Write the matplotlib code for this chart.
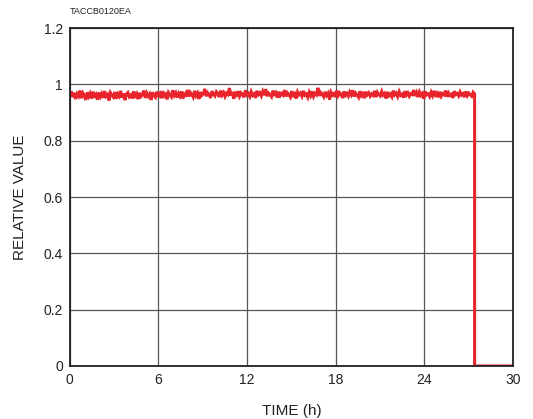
import numpy as np
import matplotlib
matplotlib.use('Agg')
import matplotlib.pyplot as plt

# relative value readings (dense logging) until the drop near 27.4 h
vals = [0.962, 0.975, 0.955, 0.970, 0.948, 0.966, 0.958, 0.978, 0.951, 0.969,
        0.960, 0.945, 0.972, 0.957, 0.968, 0.950, 0.974, 0.959, 0.965, 0.946,
        0.971, 0.956, 0.967, 0.952, 0.976, 0.958, 0.964, 0.943, 0.970, 0.961,
        0.955, 0.973, 0.949, 0.966, 0.958, 0.977, 0.953, 0.968, 0.944, 0.965,
        0.971, 0.956, 0.962, 0.950, 0.975, 0.959, 0.967, 0.948, 0.970, 0.957,
        0.963, 0.978, 0.952, 0.969, 0.958, 0.966, 0.945, 0.972, 0.960, 0.954,
        0.974, 0.962, 0.968, 0.951, 0.976, 0.959, 0.965, 0.947, 0.971, 0.963,
        0.956, 0.979, 0.961, 0.970, 0.953, 0.968, 0.958, 0.975, 0.950, 0.966,
        0.962, 0.980, 0.957, 0.972, 0.964, 0.955, 0.977, 0.960, 0.969, 0.948,
        0.973, 0.961, 0.966, 0.984, 0.958, 0.970, 0.963, 0.952, 0.976, 0.965,
        0.959, 0.974, 0.967, 0.955, 0.978, 0.962, 0.971, 0.957, 0.969, 0.964,
        0.987, 0.960, 0.973, 0.949, 0.968, 0.962, 0.976, 0.958, 0.970, 0.965,
        0.954, 0.979, 0.963, 0.968, 0.957, 0.974, 0.961, 0.966, 0.952, 0.977,
        0.964, 0.970, 0.959, 0.975, 0.962, 0.983, 0.958, 0.969, 0.963, 0.956,
        0.978, 0.965, 0.971, 0.953, 0.974, 0.960, 0.968, 0.962, 0.980, 0.957,
        0.970, 0.964, 0.955, 0.976, 0.961, 0.967, 0.950, 0.973, 0.963, 0.969,
        0.958, 0.977, 0.962, 0.966, 0.954, 0.972, 0.960, 0.975, 0.957, 0.968,
        0.963, 0.988, 0.959, 0.971, 0.965, 0.956, 0.974, 0.961, 0.969, 0.946,
        0.972, 0.962, 0.967, 0.955, 0.978, 0.960, 0.970, 0.964, 0.952, 0.975,
        0.961, 0.968, 0.958, 0.973, 0.963, 0.979, 0.957, 0.969, 0.962, 0.954,
        0.976, 0.960, 0.967, 0.951, 0.974, 0.963, 0.970, 0.958, 0.966, 0.961,
        0.977, 0.955, 0.972, 0.964, 0.959, 0.975, 0.962, 0.968, 0.950, 0.973,
        0.960, 0.966, 0.956, 0.978, 0.963, 0.969, 0.957, 0.974, 0.961, 0.965,
        0.953, 0.976, 0.962, 0.970, 0.958, 0.967, 0.964, 0.980, 0.959, 0.971,
        0.955, 0.973, 0.961, 0.968, 0.949, 0.975, 0.963, 0.966, 0.957, 0.972,
        0.960, 0.977, 0.962, 0.969, 0.954, 0.974, 0.958, 0.967, 0.963, 0.978,
        0.956, 0.970, 0.961, 0.965, 0.952, 0.976, 0.964, 0.968, 0.959, 0.973,
        0.962, 0.967, 0.955, 0.975, 0.960, 0.969, 0.963, 0.958, 0.972, 0.966]
t_drop = 27.4
tail_t = [27.4, 30.0]
tail_v = [0.0, 0.0]

t = np.linspace(0, t_drop, len(vals))
x = np.concatenate([t, tail_t])
y = np.concatenate([vals, tail_v])

plt.rcParams['font.family'] = ['Liberation Sans', 'DejaVu Sans']
fig = plt.figure(figsize=(5.33, 4.19), dpi=100)
ax = fig.add_axes([0.131, 0.1265, 0.8315, 0.8065])
ax.plot(x, y, color='#e8242c', lw=2.2, solid_joinstyle='miter')
ax.set_xlim(0, 30); ax.set_ylim(0, 1.2)
ax.set_xticks([0, 6, 12, 18, 24, 30])
ax.set_yticks([0, 0.2, 0.4, 0.6, 0.8, 1, 1.2])
ax.set_yticklabels(['0', '0.2', '0.4', '0.6', '0.8', '1', '1.2'])
ax.tick_params(length=0, labelsize=10, pad=5, colors='#222222')
ax.grid(True, color='#555555', lw=0.9)
for s in ax.spines.values():
    s.set_linewidth(1.3); s.set_color('#222222')
ax.set_xlabel('TIME (h)', fontsize=11, labelpad=12, color='#222222')
ax.set_ylabel('RELATIVE VALUE', fontsize=11, labelpad=12, color='#222222')
fig.text(0.131, 0.962, 'TACCB0120EA', fontsize=6.5, color='#222222', va='bottom')
fig.savefig('out.png', dpi=100)
